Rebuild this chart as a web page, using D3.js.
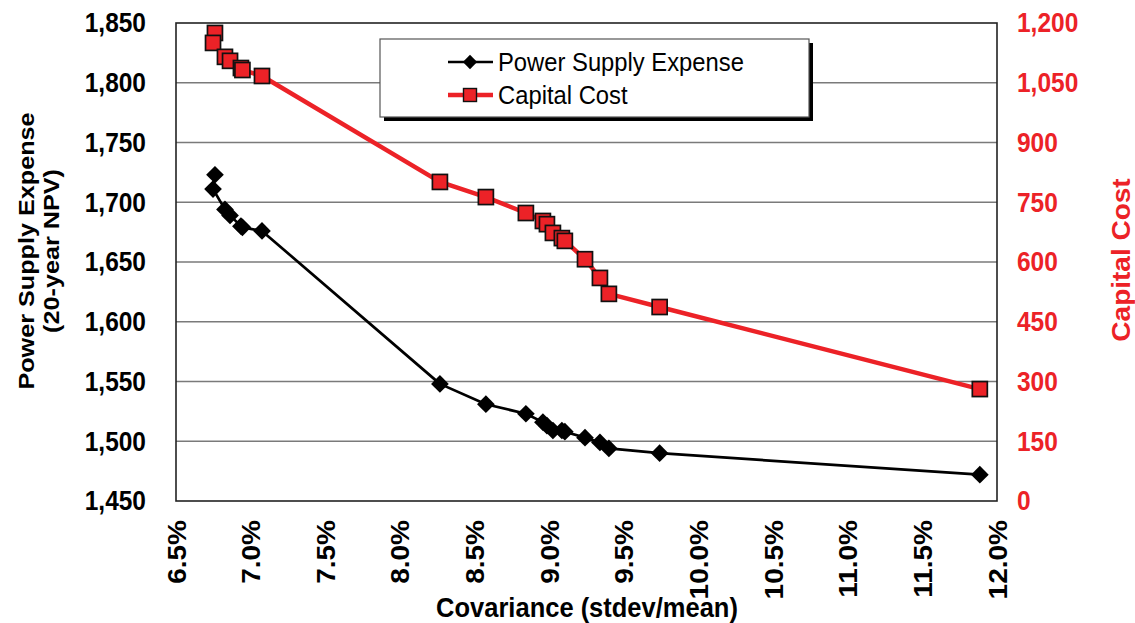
<!DOCTYPE html>
<html>
<head>
<meta charset="utf-8">
<script src="https://cdn.jsdelivr.net/npm/d3@7"></script>
<style>
  html, body { margin: 0; padding: 0; background: #fff; }
  svg { display: block; }
  text { font-family: "Liberation Sans", Arial, sans-serif; }
</style>
</head>
<body>
<svg id="chart" width="1135" height="623"></svg>
<script>
// Portfolio covariance (stdev/mean, in percent)
const covariance = [6.761, 6.748, 6.828, 6.862, 6.935, 6.945, 7.076, 8.268, 8.576, 8.844,
                    8.958, 8.985, 9.025, 9.085, 9.105, 9.24, 9.34, 9.40, 9.74, 11.885];
// Power supply expense, 20-year NPV
const powerSupplyExpense = [1723, 1711, 1694, 1689, 1680, 1679, 1676, 1548, 1531, 1523,
                            1516, 1513, 1509, 1509, 1508, 1503, 1499, 1494, 1490, 1472];
// Capital cost
const capitalCost = [1175, 1150, 1115, 1105, 1087, 1082, 1067, 801, 763, 723,
                     703, 695, 673, 660, 653, 607, 560, 520, 487, 281];

const xTicks = [6.5, 7.0, 7.5, 8.0, 8.5, 9.0, 9.5, 10.0, 10.5, 11.0, 11.5, 12.0];
const leftTicks = [1450, 1500, 1550, 1600, 1650, 1700, 1750, 1800, 1850];
const rightTicks = [0, 150, 300, 450, 600, 750, 900, 1050, 1200];
const seriesNames = ["Power Supply Expense", "Capital Cost"];

const RED = "#ec2227";
const K = 1.12; // vertical text stretch

const svg = d3.select("#chart");
const plot = { left: 176, right: 997, top: 23, bottom: 501 };

const x = d3.scaleLinear().domain([6.5, 12]).range([plot.left, plot.right]);
const yL = d3.scaleLinear().domain([1450, 1850]).range([plot.bottom, plot.top]);
const yR = d3.scaleLinear().domain([0, 1200]).range([plot.bottom, plot.top]);

const fmtComma = d3.format(",");

// Horizontal gridlines
svg.append("g")
  .selectAll("line")
  .data(leftTicks.slice(1, -1))
  .join("line")
  .attr("x1", plot.left).attr("x2", plot.right)
  .attr("y1", d => yL(d)).attr("y2", d => yL(d))
  .attr("stroke", "#7a7a7a").attr("stroke-width", 1.5);

// Plot frame
svg.append("rect")
  .attr("x", plot.left).attr("y", plot.top)
  .attr("width", plot.right - plot.left).attr("height", plot.bottom - plot.top)
  .attr("fill", "none").attr("stroke", "#222").attr("stroke-width", 1.6);

// Left axis
const gL = svg.append("g")
  .attr("transform", `translate(${plot.left},0)`)
  .call(d3.axisLeft(yL).tickValues(leftTicks).tickSize(0).tickPadding(30).tickFormat(fmtComma));
gL.select(".domain").remove();
gL.selectAll("text")
  .attr("font-size", 24.5).attr("font-weight", "bold").attr("fill", "#000")
  .attr("font-family", "Liberation Sans, Arial, sans-serif")
  .attr("transform", `scale(1,${K})`);

// Right axis
const gR = svg.append("g")
  .attr("transform", `translate(${plot.right},0)`)
  .call(d3.axisRight(yR).tickValues(rightTicks).tickSize(0).tickPadding(20).tickFormat(fmtComma));
gR.select(".domain").remove();
gR.selectAll("text")
  .attr("font-size", 24.5).attr("font-weight", "bold").attr("fill", RED)
  .attr("font-family", "Liberation Sans, Arial, sans-serif")
  .attr("transform", `scale(1,${K})`);

// Bottom axis with rotated labels
const gX = svg.append("g")
  .attr("transform", `translate(0,${plot.bottom})`)
  .call(d3.axisBottom(x).tickValues(xTicks).tickSize(0).tickFormat(d => d.toFixed(1) + "%"));
gX.select(".domain").remove();
gX.selectAll("text")
  .attr("font-size", 25).attr("font-weight", "bold").attr("fill", "#000")
  .attr("font-family", "Liberation Sans, Arial, sans-serif")
  .attr("text-anchor", "end")
  .attr("x", -17).attr("y", 0).attr("dy", "0.36em")
  .attr("transform", `scale(1,${K}) rotate(-90)`);

// Axis titles
svg.append("text")
  .attr("transform", `translate(587,607) scale(1,${K})`)
  .attr("text-anchor", "middle").attr("dominant-baseline", "central")
  .attr("font-size", 25.5).attr("font-weight", "bold")
  .text("Covariance (stdev/mean)");

const leftTitle = svg.append("g").attr("transform", `translate(0,251) scale(1,${K})`);
leftTitle.append("text")
  .attr("transform", "translate(26,0) rotate(-90)")
  .attr("text-anchor", "middle").attr("dominant-baseline", "central")
  .attr("font-size", 22.5).attr("font-weight", "bold")
  .text("Power Supply Expense");
leftTitle.append("text")
  .attr("transform", "translate(51,0) rotate(-90)")
  .attr("text-anchor", "middle").attr("dominant-baseline", "central")
  .attr("font-size", 22.5).attr("font-weight", "bold")
  .text("(20-year NPV)");

svg.append("text")
  .attr("transform", `translate(1122,260) scale(1,${K}) rotate(-90)`)
  .attr("text-anchor", "middle").attr("dominant-baseline", "central")
  .attr("font-size", 25).attr("font-weight", "bold").attr("fill", RED)
  .text("Capital Cost");

// Series data
const rows = covariance.map((c, i) => ({ c, pse: powerSupplyExpense[i], cap: capitalCost[i] }));

const diamond = d3.symbol().type(d3.symbolDiamond2).size(200);

// Power supply expense line + diamonds
svg.append("path")
  .datum(rows)
  .attr("fill", "none").attr("stroke", "#000").attr("stroke-width", 2.7)
  .attr("stroke-linejoin", "round")
  .attr("d", d3.line().x(d => x(d.c)).y(d => yL(d.pse)));
svg.append("g")
  .selectAll("path")
  .data(rows)
  .join("path")
  .attr("transform", d => `translate(${x(d.c)},${yL(d.pse)})`)
  .attr("d", diamond)
  .attr("fill", "#000");

// Capital cost line + squares
svg.append("path")
  .datum(rows)
  .attr("fill", "none").attr("stroke", RED).attr("stroke-width", 4.5)
  .attr("stroke-linejoin", "round")
  .attr("d", d3.line().x(d => x(d.c)).y(d => yR(d.cap)));
svg.append("g")
  .selectAll("rect")
  .data(rows)
  .join("rect")
  .attr("x", d => x(d.c) - 7.5).attr("y", d => yR(d.cap) - 7.5)
  .attr("width", 15).attr("height", 15)
  .attr("fill", RED).attr("stroke", "#111").attr("stroke-width", 1.7);

// Legend
const lg = svg.append("g").attr("transform", "translate(380,39)");
lg.append("rect").attr("x", 4).attr("y", 4).attr("width", 429).attr("height", 78).attr("fill", "#000");
lg.append("rect").attr("x", 0).attr("y", 0).attr("width", 429).attr("height", 78)
  .attr("fill", "#fff").attr("stroke", "#555").attr("stroke-width", 1.2);

const items = lg.selectAll("g.item")
  .data(seriesNames)
  .join("g")
  .attr("class", "item")
  .attr("transform", (d, i) => `translate(0,${i === 0 ? 23 : 56})`);
items.append("line")
  .attr("x1", 68).attr("x2", 113).attr("y1", 0).attr("y2", 0)
  .attr("stroke", (d, i) => i === 0 ? "#000" : RED)
  .attr("stroke-width", (d, i) => i === 0 ? 2.7 : 4.5);
items.filter((d, i) => i === 0).append("path")
  .attr("transform", "translate(90,0)")
  .attr("d", d3.symbol().type(d3.symbolDiamond2).size(130))
  .attr("fill", "#000");
items.filter((d, i) => i === 1).append("rect")
  .attr("x", 83.5).attr("y", -6.5).attr("width", 13).attr("height", 13)
  .attr("fill", RED).attr("stroke", "#111").attr("stroke-width", 1.4);
items.append("text")
  .attr("transform", `translate(118,0) scale(1,${K})`)
  .attr("dominant-baseline", "central")
  .attr("font-size", 23.8).attr("fill", "#000")
  .text(d => d);
</script>
</body>
</html>
